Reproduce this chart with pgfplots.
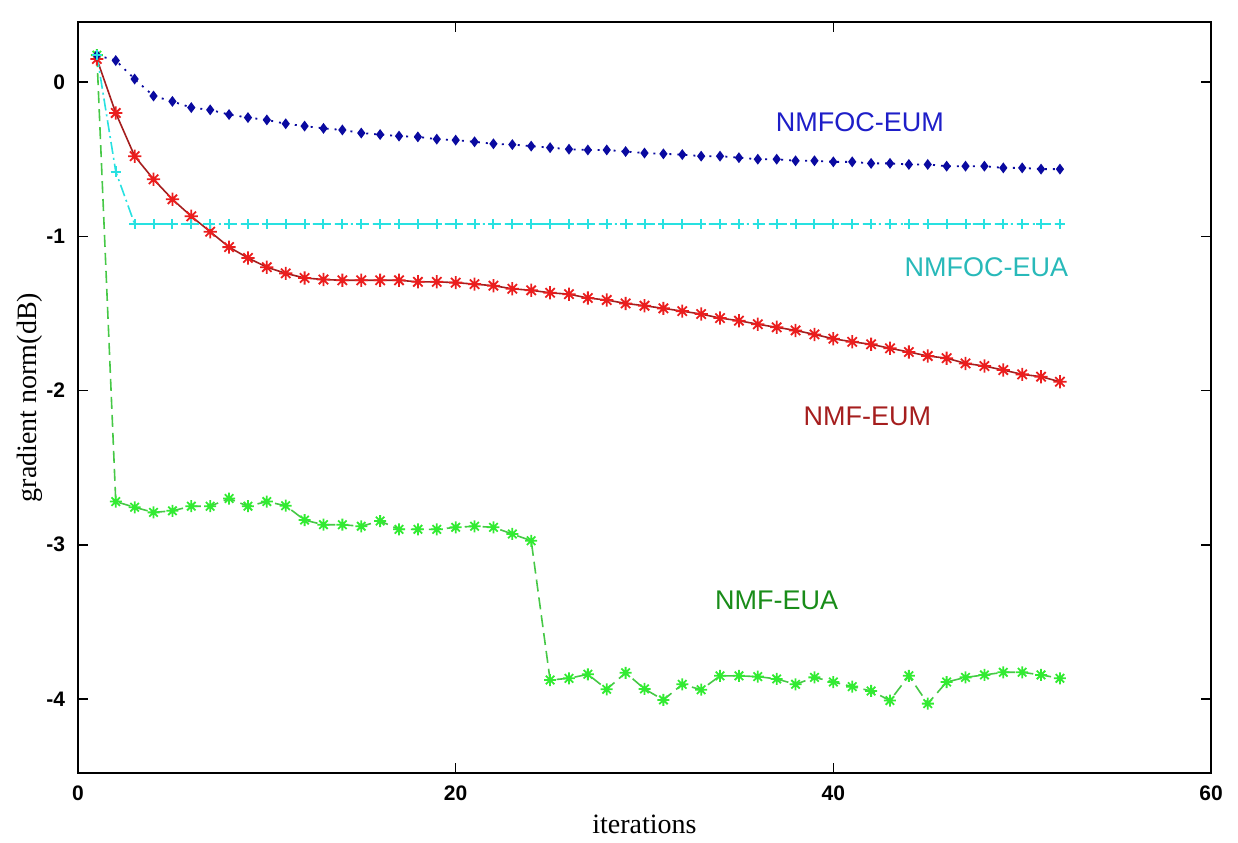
\documentclass[border=0pt]{standalone}
\usepackage{fontspec}
\setmainfont{Liberation Serif}
\setsansfont{Liberation Sans}
\usepackage{pgfplots}
\pgfplotsset{compat=1.18}

% matlab-style '*' marker: + and x on top of each other
\pgfdeclareplotmark{mstar}{%
  \pgfpathmoveto{\pgfqpoint{-\pgfplotmarksize}{0pt}}\pgfpathlineto{\pgfqpoint{\pgfplotmarksize}{0pt}}%
  \pgfpathmoveto{\pgfqpoint{0pt}{-\pgfplotmarksize}}\pgfpathlineto{\pgfqpoint{0pt}{\pgfplotmarksize}}%
  \pgfpathmoveto{\pgfqpoint{-.707\pgfplotmarksize}{-.707\pgfplotmarksize}}\pgfpathlineto{\pgfqpoint{.707\pgfplotmarksize}{.707\pgfplotmarksize}}%
  \pgfpathmoveto{\pgfqpoint{-.707\pgfplotmarksize}{.707\pgfplotmarksize}}\pgfpathlineto{\pgfqpoint{.707\pgfplotmarksize}{-.707\pgfplotmarksize}}%
  \pgfusepathqstroke}

\definecolor{eumblue}{RGB}{10,10,160}
\definecolor{eumtext}{RGB}{30,30,200}
\definecolor{euacyan}{RGB}{40,225,225}
\definecolor{euatext}{RGB}{40,185,185}
\definecolor{nmfred}{RGB}{235,30,30}
\definecolor{nmfline}{RGB}{165,30,30}
\definecolor{nmfgreen}{RGB}{50,235,50}
\definecolor{greenline}{RGB}{70,200,70}
\definecolor{greentext}{RGB}{25,140,25}

\pgfplotstableread{
x y
1 0.175
2 0.14
3 0.02
4 -0.09
5 -0.125
6 -0.165
7 -0.18
8 -0.21
9 -0.23
10 -0.245
11 -0.27
12 -0.285
13 -0.30
14 -0.31
15 -0.33
16 -0.34
17 -0.35
18 -0.355
19 -0.37
20 -0.376
21 -0.387
22 -0.40
23 -0.405
24 -0.415
25 -0.425
26 -0.435
27 -0.44
28 -0.44
29 -0.45
30 -0.46
31 -0.465
32 -0.47
33 -0.48
34 -0.48
35 -0.49
36 -0.50
37 -0.50
38 -0.51
39 -0.51
40 -0.517
41 -0.517
42 -0.527
43 -0.527
44 -0.534
45 -0.534
46 -0.545
47 -0.545
48 -0.545
49 -0.556
50 -0.556
51 -0.564
52 -0.564
}\eum

\pgfplotstableread{
x y
1 0.175
2 -0.58
3 -0.92
4 -0.92
5 -0.92
6 -0.92
7 -0.92
8 -0.92
9 -0.92
10 -0.92
11 -0.92
12 -0.92
13 -0.92
14 -0.92
15 -0.92
16 -0.92
17 -0.92
18 -0.92
19 -0.92
20 -0.92
21 -0.92
22 -0.92
23 -0.92
24 -0.92
25 -0.92
26 -0.92
27 -0.92
28 -0.92
29 -0.92
30 -0.92
31 -0.92
32 -0.92
33 -0.92
34 -0.92
35 -0.92
36 -0.92
37 -0.92
38 -0.92
39 -0.92
40 -0.92
41 -0.92
42 -0.92
43 -0.92
44 -0.92
45 -0.92
46 -0.92
47 -0.92
48 -0.92
49 -0.92
50 -0.92
51 -0.92
52 -0.92
}\eua

\pgfplotstableread{
x y
1 0.15
2 -0.20
3 -0.48
4 -0.63
5 -0.76
6 -0.87
7 -0.97
8 -1.07
9 -1.14
10 -1.20
11 -1.24
12 -1.27
13 -1.28
14 -1.285
15 -1.285
16 -1.285
17 -1.285
18 -1.295
19 -1.295
20 -1.30
21 -1.31
22 -1.32
23 -1.34
24 -1.35
25 -1.366
26 -1.375
27 -1.40
28 -1.413
29 -1.435
30 -1.45
31 -1.467
32 -1.485
33 -1.504
34 -1.53
35 -1.547
36 -1.57
37 -1.59
38 -1.61
39 -1.636
40 -1.664
41 -1.684
42 -1.70
43 -1.726
44 -1.75
45 -1.776
46 -1.79
47 -1.824
48 -1.841
49 -1.867
50 -1.895
51 -1.91
52 -1.943
}\nmfeum

\pgfplotstableread{
x y
1 0.175
2 -2.72
3 -2.757
4 -2.79
5 -2.78
6 -2.75
7 -2.75
8 -2.70
9 -2.75
10 -2.72
11 -2.747
12 -2.84
13 -2.87
14 -2.87
15 -2.88
16 -2.846
17 -2.90
18 -2.90
19 -2.90
20 -2.887
21 -2.88
22 -2.887
23 -2.93
24 -2.974
25 -3.877
26 -3.866
27 -3.84
28 -3.937
29 -3.83
30 -3.935
31 -4.006
32 -3.905
33 -3.94
34 -3.85
35 -3.85
36 -3.855
37 -3.87
38 -3.905
39 -3.86
40 -3.89
41 -3.92
42 -3.948
43 -4.01
44 -3.85
45 -4.03
46 -3.89
47 -3.86
48 -3.844
49 -3.827
50 -3.827
51 -3.844
52 -3.866
}\nmfeua

\begin{document}
\begin{tikzpicture}
\begin{axis}[
    name=ax,
    scale only axis,
    width=566.5pt, height=375.5pt,
    xmin=0, xmax=60, ymin=-4.48, ymax=0.39,
    xtick={0,20,40,60},
    ytick={-4,-3,-2,-1,0},
    tick align=inside,
    major tick length=5pt,
    axis line style={line width=0.8pt},
    every tick/.style={black, line width=0.8pt},
    /pgf/number format/assume math mode=true,
    ticklabel style={font=\sffamily\bfseries\fontsize{10.5}{12}\selectfont},
    xticklabel style={yshift=-3pt},
    yticklabel style={xshift=-3pt},
    xlabel={iterations},
    ylabel={gradient norm(dB)},
    label style={font=\fontsize{14}{16}\selectfont},
    xlabel style={at={(axis description cs:0.5,-0.069)}, anchor=center},
    ylabel style={at={(axis description cs:-0.0424,0.5)}, anchor=center, rotate=0},
]
\addplot[greenline, line width=0.8pt, dash pattern=on 6pt off 3pt,
    mark=mstar, mark size=3pt, mark options={nmfgreen, solid, line width=0.9pt}]
    table[x=x,y=y] {\nmfeua};
\addplot[nmfline, line width=0.8pt,
    mark=mstar, mark size=3.3pt, mark options={nmfred, solid, line width=0.9pt}]
    table[x=x,y=y] {\nmfeum};
\addplot[eumblue, line width=0.9pt, dash pattern=on 1pt off 3pt,
    mark=diamond*, mark size=2pt, mark options={eumblue, solid}]
    table[x=x,y=y] {\eum};
\addplot[euacyan, line width=0.8pt, dash pattern=on 6pt off 2pt on 1pt off 2pt,
    mark=+, mark size=2.6pt, mark options={euacyan, solid, line width=1pt}]
    table[x=x,y=y] {\eua};

\node[text=eumtext, font=\sffamily\fontsize{13.5}{16}\selectfont] at (axis cs:41.4,-0.26) {NMFOC-EUM};
\node[text=euatext, font=\sffamily\fontsize{13.5}{16}\selectfont] at (axis cs:48.1,-1.2) {NMFOC-EUA};
\node[text=nmfline, font=\sffamily\fontsize{13.5}{16}\selectfont] at (axis cs:41.8,-2.165) {NMF-EUM};
\node[text=greentext, font=\sffamily\fontsize{13.5}{16}\selectfont] at (axis cs:37.0,-3.36) {NMF-EUA};
\end{axis}
\pgfresetboundingbox
\path (ax.south west) ++(-39pt,-35pt) coordinate (bl);
\path (ax.north east) ++(13.5pt,11pt) coordinate (tr);
\path (bl) rectangle (tr);
\end{tikzpicture}
\end{document}
